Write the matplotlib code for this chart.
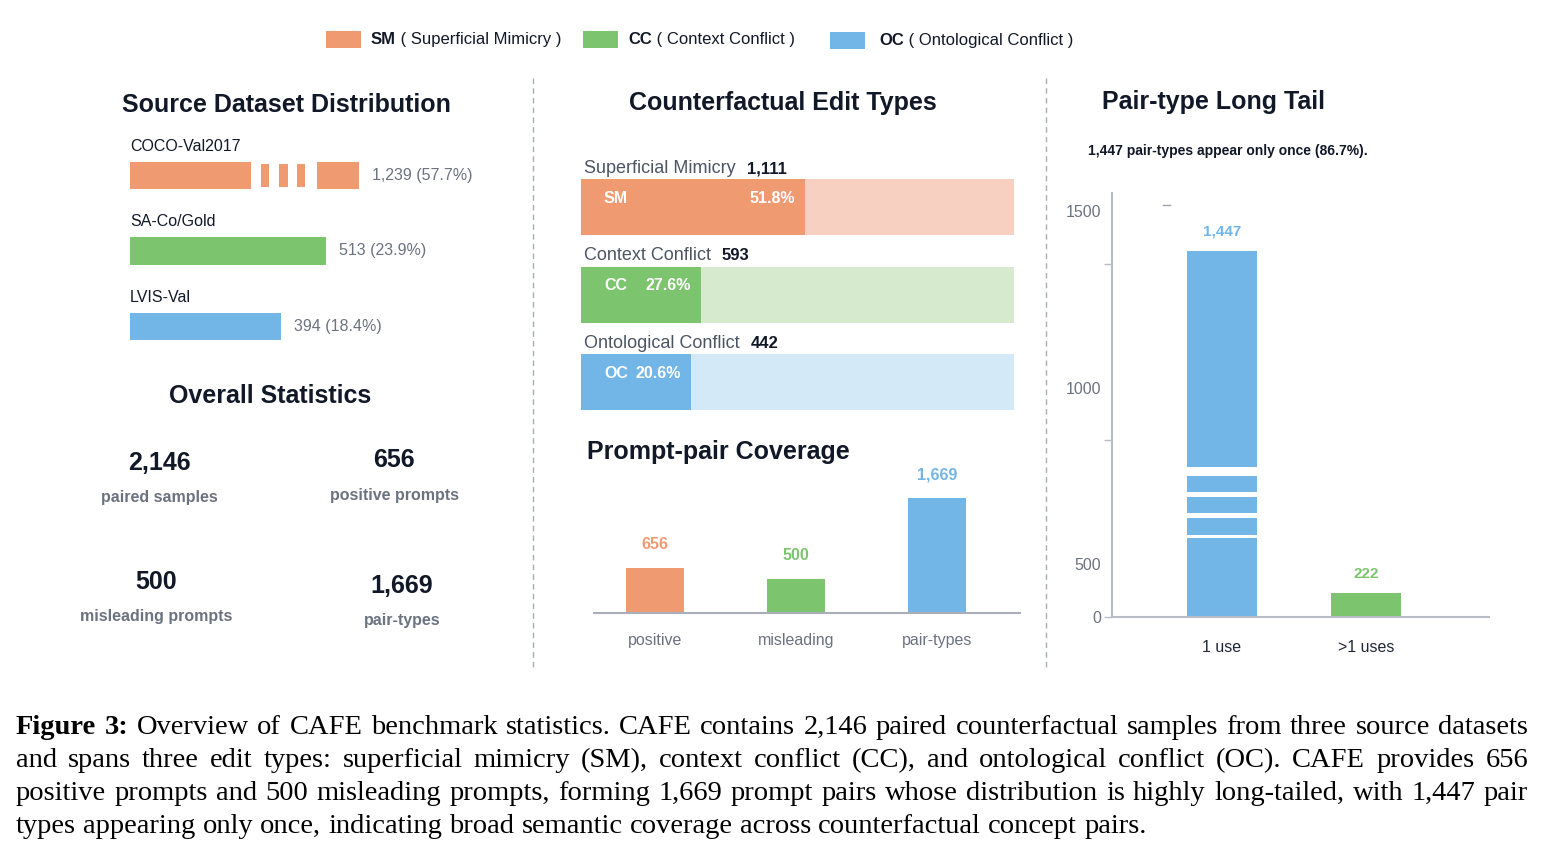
import numpy as np
import matplotlib
matplotlib.use("Agg")
import matplotlib.pyplot as plt
from matplotlib.patches import Rectangle
from matplotlib.transforms import blended_transform_factory as blend

# ---------------- data ----------------
legend_codes = ["SM", "CC", "OC"]
legend_names = ["Superficial Mimicry", "Context Conflict", "Ontological Conflict"]

source_names = ["COCO-Val2017", "SA-Co/Gold", "LVIS-Val"]
source_counts = [1239, 513, 394]
source_pcts = [57.7, 23.9, 18.4]

edit_codes = ["SM", "CC", "OC"]
edit_names = ["Superficial Mimicry", "Context Conflict", "Ontological Conflict"]
edit_counts = [1111, 593, 442]
edit_pcts = [51.8, 27.6, 20.6]

stat_values = [2146, 656, 500, 1669]
stat_labels = ["paired samples", "positive prompts", "misleading prompts", "pair-types"]

coverage_cats = ["positive", "misleading", "pair-types"]
coverage_vals = [656, 500, 1669]

tail_cats = ["1 use", ">1 uses"]
tail_vals = [1447, 222]
tail_once_pct = 86.7
tail_yticks = [0, 500, 1000, 1500]

caption_lines = [
    "Overview of CAFE benchmark statistics. CAFE contains 2,146 paired counterfactual samples from three source datasets",
    "and spans three edit types: superficial mimicry (SM), context conflict (CC), and ontological conflict (OC). CAFE provides 656",
    "positive prompts and 500 misleading prompts, forming 1,669 prompt pairs whose distribution is highly long-tailed, with 1,447 pair",
    "types appearing only once, indicating broad semantic coverage across counterfactual concept pairs.",
]
caption_lead = "Figure 3:"

# ---------------- style ----------------
W, H = 1544, 849
plt.rcParams['font.family'] = ['Liberation Sans', 'DejaVu Sans']
DARK = '#111827'
GREY = '#6B7280'
MIDGREY = '#4B5563'
COLORS = ['#F09A72', '#7DC46E', '#72B6E7']
LIGHTS = ['#F8D0C1', '#D6EACD', '#D4E9F7']
SPINE = '#B8BCC6'

fig = plt.figure(figsize=(W / 100, H / 100), dpi=100, facecolor='white')
ov = fig.add_axes([0, 0, 1, 1], zorder=0)
ov.set_xlim(0, W)
ov.set_ylim(H, 0)
ov.axis('off')


def sub_axes(x0, y0, x1, y1):
    a = fig.add_axes([x0 / W, 1 - y1 / H, (x1 - x0) / W, (y1 - y0) / H], zorder=1)
    a.set_facecolor('none')
    return a


# ---------------- legend ----------------
leg_box_x = [326, 583, 830]
leg_txt_x = [371, 628, 879]
leg_y = [39.5, 39.5, 40.5]
for i in range(3):
    ov.add_patch(Rectangle((leg_box_x[i], leg_y[i] - 8.5), 35, 17, color=COLORS[i], lw=0))
    t = ov.text(leg_txt_x[i], leg_y[i], legend_codes[i], fontsize=12, weight='bold',
                color=DARK, va='center', ha='left')
    ov.annotate(f" ( {legend_names[i]} )", xy=(1, 0), xycoords=t, va='bottom', ha='left',
                fontsize=12, color=DARK)

# ---------------- separators ----------------
for x in [533, 1046]:
    ov.plot([x, x], [78, 670], color='#A8ACB5', lw=1, ls=(0, (4, 3)))

# ---------------- titles ----------------
tkw = dict(fontsize=18, weight='bold', color=DARK, ha='center', va='center')
ov.text(286, 105, "Source Dataset Distribution", **tkw)
ov.text(270, 396, "Overall Statistics", **tkw)
ov.text(783, 103, "Counterfactual Edit Types", **tkw)
ov.text(718, 452, "Prompt-pair Coverage", **tkw)
ov.text(1213, 102, "Pair-type Long Tail", **tkw)

# ---------------- source dataset distribution ----------------
axs = sub_axes(130, 137.75, 530, 364.25)
axs.set_xlim(0, 400 / 0.382)
axs.set_ylim(2.5, -0.5)
axs.axis('off')
CAP = 600  # displayed length of an axis-broken bar
ypos = np.arange(len(source_counts))
shown = [min(v, CAP) for v in source_counts]
BH = 0.37
axs.barh(ypos, shown, height=BH, color=COLORS, lw=0)
GAPS = [(0.528, 0.572), (0.607, 0.651), (0.690, 0.729), (0.764, 0.817)]
for i, v in enumerate(source_counts):
    if v > CAP:
        for g0, g1 in GAPS:
            axs.add_patch(Rectangle((g0 * CAP, i - 0.3), (g1 - g0) * CAP, 0.6,
                                    color='white', lw=0, zorder=3))
        for k in range(len(GAPS) - 1):
            p0, p1 = GAPS[k][1], GAPS[k + 1][0]
            for yy in (i - BH / 2 - 0.01, i + BH / 2 - 0.027):
                axs.add_patch(Rectangle((p0 * CAP, yy), (p1 - p0) * CAP, 0.037,
                                        color='white', lw=0, zorder=3))
for i, (v, p) in enumerate(zip(source_counts, source_pcts)):
    axs.annotate(f"{v:,} ({p}%)", xy=(shown[i], i), xytext=(13, 0), textcoords='offset pixels',
                 va='center', ha='left', fontsize=11.5, color=GREY)
    axs.text(0, i - 0.39, source_names[i], fontsize=11.5, color=DARK, va='center', ha='left')

# ---------------- overall statistics ----------------
stat_pos = [(159, 463, 497), (394, 460, 495), (156, 582, 617), (402, 586, 620)]
for v, lab, (x, yv, yl) in zip(stat_values, stat_labels, stat_pos):
    ov.text(x, yv, f"{v:,}", fontsize=18, weight='bold', color=DARK, ha='center', va='center')
    ov.text(x, yl, lab, fontsize=11.5, weight='bold', color=GREY, ha='center', va='center')

# ---------------- counterfactual edit types ----------------
axe = sub_axes(581, 163.25, 1014, 425.75)
axe.set_xlim(0, 100)
axe.set_ylim(2.5, -0.5)
axe.axis('off')
MIN_FILL = 25.4  # minimum fill so inside label fits
fill = [max(p, MIN_FILL) for p in edit_pcts]
ye = np.arange(len(edit_pcts))
axe.barh(ye, [100] * len(ye), height=0.64, color=LIGHTS, lw=0)
axe.barh(ye, fill, height=0.64, color=COLORS, lw=0)
for i in range(len(ye)):
    t = axe.text(0.7, i - 0.44, edit_names[i], fontsize=13, color=MIDGREY, va='center', ha='left')
    axe.annotate(f"{edit_counts[i]:,}", xy=(1, 0.5), xycoords=t, xytext=(11, 0),
                 textcoords='offset pixels', fontsize=12, weight='bold', color=DARK,
                 va='center', ha='left')
    axe.text(5.3, i - 0.1, edit_codes[i], color='white', weight='bold', fontsize=11.5,
             va='center', ha='left')
    axe.annotate(f"{edit_pcts[i]}%", xy=(fill[i], i - 0.1), xytext=(-10, 0),
                 textcoords='offset pixels', ha='right', va='center', color='white',
                 weight='bold', fontsize=11.5)

# ---------------- prompt-pair coverage ----------------
axc = sub_axes(594, 470, 1020, 613)
xc = np.arange(len(coverage_vals))
axc.bar(xc, coverage_vals, width=0.41, color=COLORS, lw=0)
axc.set_xlim(-0.433, 2.589)
axc.set_ylim(0, 2075)
for s in ['top', 'right', 'left']:
    axc.spines[s].set_visible(False)
axc.spines['bottom'].set_color('#A9AEB8')
axc.spines['bottom'].set_linewidth(1.5)
axc.set_xticks([])
axc.set_yticks([])
tr = blend(axc.transData, axc.transAxes)
for i, v in enumerate(coverage_vals):
    axc.annotate(f"{v:,}", xy=(i, v), xytext=(0, 23), textcoords='offset pixels', ha='center',
                 va='center', color=COLORS[i], weight='bold', fontsize=11.5)
    axc.text(i, -27 / 143, coverage_cats[i], transform=tr, ha='center', va='center',
             fontsize=11.5, color=GREY)

# ---------------- pair-type long tail ----------------
ov.text(1088, 151, f"{tail_vals[0]:,} pair-types appear only once ({tail_once_pct}%).",
        fontsize=10, weight='bold', color=DARK, va='center', ha='left')
axt = sub_axes(1112, 193, 1489, 617)
BP_V = [0, 500, 1000, 1447, 1500, 3000]
BP_P = [0, 53, 229, 366, 406, 937]
axt.set_yscale('function', functions=(lambda v: np.interp(v, BP_V, BP_P),
                                       lambda p: np.interp(p, BP_P, BP_V)))
axt.set_ylim(0, np.interp(424, BP_P, BP_V))
axt.set_xlim(-0.764, 1.854)
xt = np.arange(len(tail_vals))
tail_colors = [COLORS[2], COLORS[1]]
axt.bar(xt, tail_vals, width=0.48, color=tail_colors, lw=0)
trt = blend(axt.transData, axt.transAxes)
GAPS_T = [(0.333, 0.354), (0.283, 0.295), (0.233, 0.245), (0.186, 0.193)]
for i, v in enumerate(tail_vals):
    if v > 1000:
        for g0, g1 in GAPS_T:
            axt.add_patch(Rectangle((i - 0.3, g0), 0.6, g1 - g0, transform=trt,
                                    color='white', lw=0, zorder=3))
    axt.annotate(f"{v:,}", xy=(i, v), xytext=(0, 19), textcoords='offset pixels', ha='center',
                 va='center', color=tail_colors[i], weight='bold', fontsize=11)
    axt.text(i, -30 / 424, tail_cats[i], transform=trt, ha='center', va='center',
             fontsize=11.5, color='#1F2937')
for s in ['top', 'right']:
    axt.spines[s].set_visible(False)
for s in ['left', 'bottom']:
    axt.spines[s].set_color(SPINE)
    axt.spines[s].set_linewidth(1.5)
axt.set_xticks([])
axt.set_yticks(tail_yticks)
axt.set_yticklabels([str(t) for t in tail_yticks])
axt.set_yticks([0, 852, 1405], minor=True)
axt.yaxis.remove_overlapping_locs = False
axt.yaxis.set_minor_formatter(plt.NullFormatter())
axt.tick_params(axis='y', which='major', length=0, pad=8, labelsize=11.5, labelcolor=GREY)
axt.tick_params(axis='y', which='minor', length=6, width=1, color=SPINE)
ov.plot([1163, 1170], [205, 205], color='#9CA3AF', lw=1)

# ---------------- caption (justified) ----------------
CAP_FS = 20.5
CAP_FAMILY = ['Liberation Serif', 'DejaVu Serif']
renderer = fig.canvas.get_renderer()
x_left, x_right = 16, 1528
baselines = [734, 767, 800, 833]


def measure(s, weight='normal', fs=None):
    t = ov.text(0, 0, s, fontsize=fs or CAP_FS, family=CAP_FAMILY, weight=weight)
    w = t.get_window_extent(renderer).width
    t.remove()
    return w


def tokens_for(li):
    toks = []
    if li == 0:
        toks += [(w, 'bold') for w in caption_lead.split()]
    toks += [(w, 'normal') for w in caption_lines[li].split()]
    return toks


# shrink font if a justified line would need less than 55% of a normal space
for _ in range(20):
    sp = measure("x x") - measure("xx")
    ok = True
    for li in range(len(caption_lines) - 1):
        toks = tokens_for(li)
        tot = sum(measure(w, wt) for w, wt in toks)
        g = (x_right - x_left - tot) / (len(toks) - 1)
        if g < 0.55 * sp:
            ok = False
            break
    if ok:
        break
    CAP_FS -= 0.25

space_w = measure("x x") - measure("xx")
for li in range(len(caption_lines)):
    tokens = tokens_for(li)
    widths = [measure(w, wt) for w, wt in tokens]
    last = li == len(caption_lines) - 1
    if last:
        gap = space_w
    else:
        gap = (x_right - x_left - sum(widths)) / (len(tokens) - 1)
    x = x_left
    for (w, wt), wd in zip(tokens, widths):
        ov.text(x, baselines[li], w, fontsize=CAP_FS, family=CAP_FAMILY, weight=wt,
                color='black', va='baseline', ha='left')
        x += wd + gap

fig.savefig('out.png', dpi=100, facecolor='white')
